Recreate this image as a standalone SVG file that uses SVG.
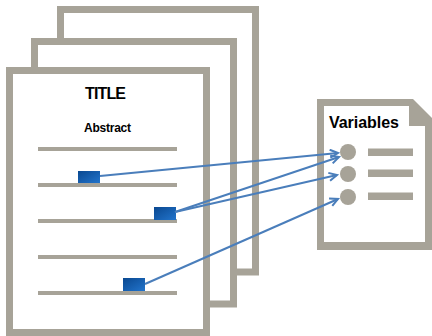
<svg xmlns="http://www.w3.org/2000/svg" width="432" height="336" viewBox="0 0 432 336">
<style>
.page{fill:#fff;stroke:#a7a398;stroke-width:7}
.ln{stroke:#a7a398;stroke-width:4}
.gray{fill:#a7a398}
.box{fill:url(#bg)}
.con{fill:none;stroke:#4a7ebb;stroke-width:2;marker-end:url(#ah)}
.t{font-family:"Liberation Sans",Arial,sans-serif;font-weight:bold;fill:#000}
</style>
<defs>
<linearGradient id="bg" x1="0" y1="0" x2="1" y2="1">
<stop offset="0" stop-color="#0a4890"/>
<stop offset="1" stop-color="#2274cc"/>
</linearGradient>
<marker id="ah" markerUnits="userSpaceOnUse" markerWidth="12" markerHeight="12" refX="9" refY="5" orient="auto">
<path d="M1,1 L9,5 L1,9" fill="none" stroke="#4a7ebb" stroke-width="2"/>
</marker>
</defs>
<g id="page-back"><rect class="page" x="60.5" y="9.5" width="195" height="262.5"/></g>
<g id="page-middle"><rect class="page" x="34.5" y="41.5" width="199" height="262.5"/></g>
<g id="page-front">
<rect class="page" x="9.5" y="70.5" width="197" height="262"/>
<text class="t" x="105.5" y="99" font-size="16" text-anchor="middle" textLength="41">TITLE</text>
<text class="t" x="107.5" y="132" font-size="12" text-anchor="middle" textLength="47">Abstract</text>
<line class="ln" x1="38" y1="149" x2="177" y2="149"/>
<line class="ln" x1="38" y1="185" x2="177" y2="185"/>
<line class="ln" x1="38" y1="221" x2="177" y2="221"/>
<line class="ln" x1="38" y1="257" x2="177" y2="257"/>
<line class="ln" x1="38" y1="293" x2="177" y2="293"/>
</g>
<g id="box1"><rect class="box" x="78" y="171" width="22" height="12"/></g>
<g id="box2"><rect class="box" x="154" y="207" width="22" height="13"/></g>
<g id="box3"><rect class="box" x="123" y="278" width="22" height="13"/></g>
<g id="variables">
<polygon class="gray" points="317,99 413,99 432,118 432,250 317,250"/>
<polygon fill="#fff" points="324,106 409,106 409,126 425,126 425,242 324,242"/>
<text class="t" x="329" y="128" font-size="16" textLength="70">Variables</text>
<circle class="gray" cx="348" cy="152" r="8"/>
<circle class="gray" cx="348" cy="174" r="8"/>
<circle class="gray" cx="348" cy="197" r="8"/>
<rect class="gray" x="368" y="148.5" width="45" height="7.5"/>
<rect class="gray" x="368" y="169.5" width="45" height="7.5"/>
<rect class="gray" x="368" y="192.5" width="45" height="7.5"/>
</g>
<g id="connectors">
<line class="con" x1="100" y1="176" x2="338" y2="153"/>
<line class="con" x1="175" y1="212" x2="339" y2="157"/>
<line class="con" x1="175" y1="212" x2="337" y2="175"/>
<line class="con" x1="145" y1="284" x2="338" y2="199"/>
</g>
</svg>
